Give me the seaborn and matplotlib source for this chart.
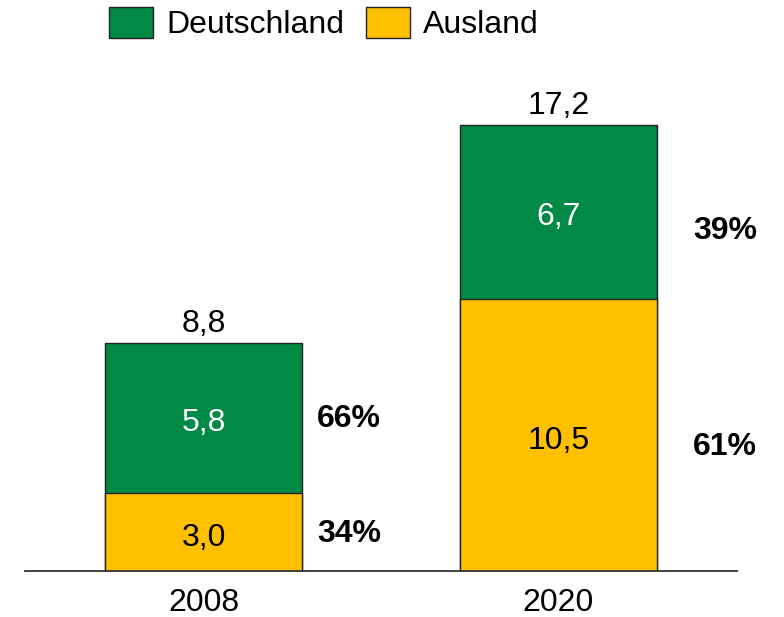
import matplotlib
matplotlib.use('Agg')
import matplotlib.pyplot as plt
import seaborn as sns
import pandas as pd

# Values (Mrd.)
years = ['2008', '2020']
deutschland = [5.8, 6.7]
ausland = [3.0, 10.5]
totals = [8.8, 17.2]
shares_de = ['66%', '39%']
shares_aus = ['34%', '61%']

green = '#008A45'
yellow = '#FFC000'

sns.set_theme(style='white')
plt.rcParams['font.family'] = ['Liberation Sans', 'DejaVu Sans']
plt.rcParams['text.color'] = 'black'

df = pd.DataFrame({'year': years, 'Deutschland': deutschland, 'Ausland': ausland})
df['total'] = df['Deutschland'] + df['Ausland']

fig = plt.figure(figsize=(7.84, 6.17), dpi=100)
ax = fig.add_axes([25 / 784, 46 / 617, 712 / 784, 518.6 / 617])

# stacked bars: full height in green, Ausland over it in yellow
sns.barplot(data=df, x='year', y='total', color=green, width=0.555,
            edgecolor='#222222', linewidth=1, saturation=1, ax=ax)
sns.barplot(data=df, x='year', y='Ausland', color=yellow, width=0.555,
            edgecolor='#222222', linewidth=1, saturation=1, ax=ax)

ax.set_xlim(-0.503, 1.503)
ax.set_ylim(0, 20)
ax.set_xlabel('')
ax.set_ylabel('')
ax.set_yticks([])
ax.tick_params(axis='x', length=0, pad=12, labelsize=23, colors='black')
for s in ['top', 'left', 'right']:
    ax.spines[s].set_visible(False)
ax.spines['bottom'].set_color('#333333')
ax.spines['bottom'].set_linewidth(1.3)

fs = 23
share_off = [0.41, 0.47]
for i in range(len(years)):
    a, d, t = ausland[i], deutschland[i], totals[i]
    ax.text(i, t + 0.42, f'{t:.1f}'.replace('.', ','), ha='center', va='baseline', fontsize=fs)
    ax.text(i, a + d / 2 - 0.05, f'{d:.1f}'.replace('.', ','), ha='center', va='center_baseline',
            fontsize=fs, color='white')
    ax.text(i, a / 2 - 0.1, f'{a:.1f}'.replace('.', ','), ha='center', va='center_baseline',
            fontsize=fs, color='black')
    ax.text(i + share_off[i], a + d / 2 + (0.1 if i == 0 else -0.6), shares_de[i],
            ha='center', va='center_baseline', fontsize=fs, fontweight='bold')
    ax.text(i + share_off[i], a / 2 + (0.05 if i == 0 else -0.35), shares_aus[i],
            ha='center', va='center_baseline', fontsize=fs, fontweight='bold')

handles = [plt.Rectangle((0, 0), 1, 1, facecolor=green, edgecolor='#222222', linewidth=1),
           plt.Rectangle((0, 0), 1, 1, facecolor=yellow, edgecolor='#222222', linewidth=1)]
fig.legend(handles, ['Deutschland', 'Ausland'], loc='upper center',
           bbox_to_anchor=(324 / 784, 1 - 7 / 617), ncol=2, frameon=False,
           fontsize=fs, handlelength=1.375, handleheight=1.1, handletextpad=0.4,
           columnspacing=0.7, borderpad=0, borderaxespad=0)

fig.savefig('out.png', dpi=100)
